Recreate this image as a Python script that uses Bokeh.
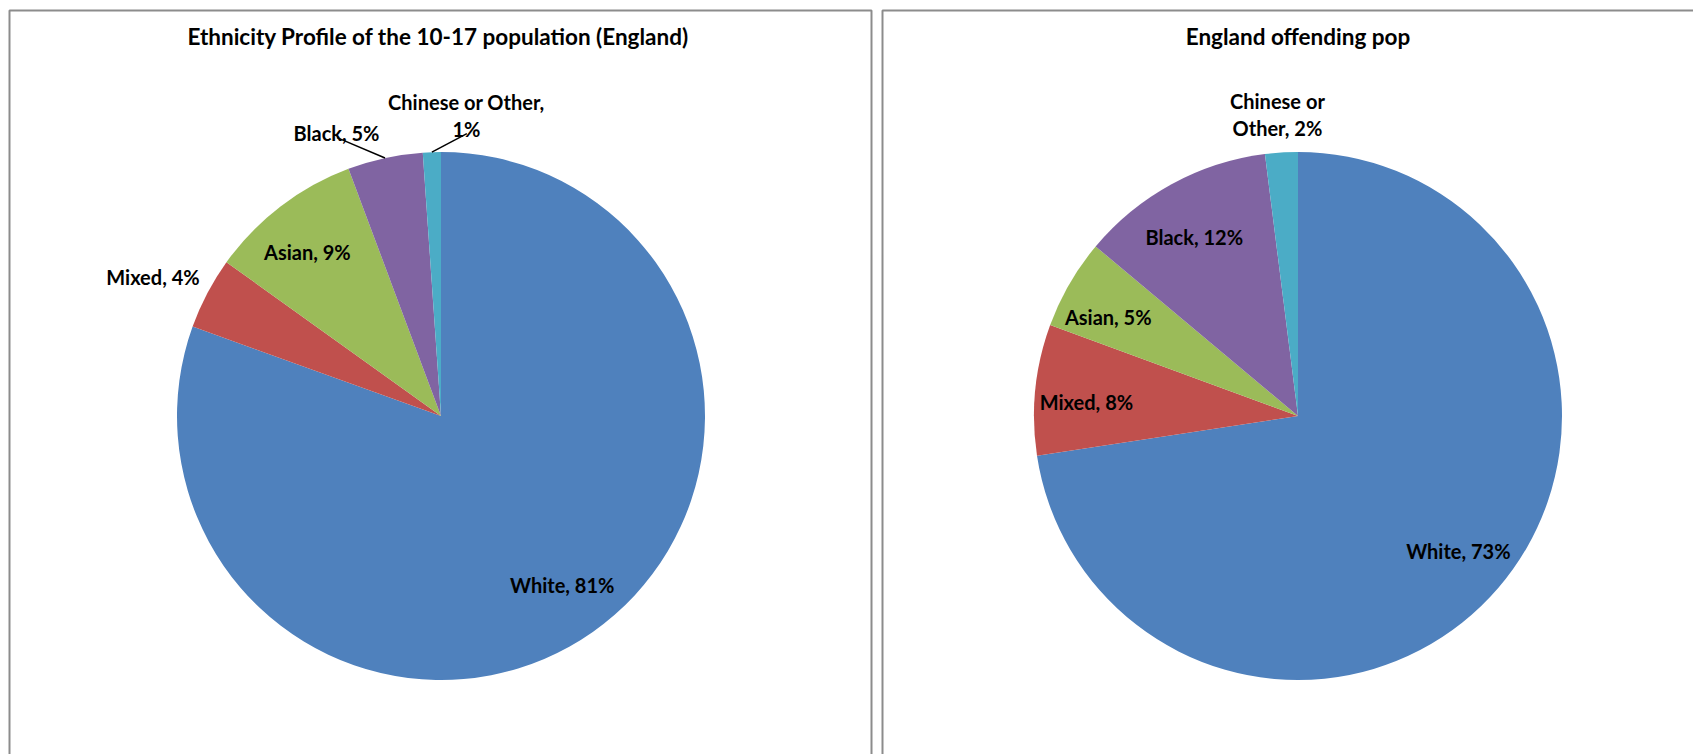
import numpy as np
from bokeh.plotting import figure
from bokeh.models import Range1d, ColumnDataSource
from bokeh.core.properties import value
from bokeh.embed import file_html
from bokeh.resources import INLINE

# ---------------- data ----------------
categories = ["White", "Mixed", "Asian", "Black", "Chinese or Other"]
slice_colors = ["#4F81BD", "#C0504D", "#9BBB59", "#8064A2", "#4BACC6"]

pop_title = "Ethnicity Profile of  the 10-17 population (England)"
pop_values = [80.5, 4.4, 9.4, 4.6, 1.1]
pop_labels = ["White, 81%", "Mixed, 4%", "Asian, 9%", "Black, 5%", "Chinese or Other,\n1%"]

off_title = "England offending pop"
off_values = [72.6, 8.0, 5.5, 11.9, 2.0]
off_labels = ["White, 73%", "Mixed, 8%", "Asian, 5%", "Black, 12%", "Chinese or\nOther, 2%"]

# ---------------- layout ----------------
W, H = 1693, 754
FONT = "Lato"
LABEL_SIZE = 20
TITLE_SIZE = 22.5
LINE_GAP = 27

panels = [
    dict(title=pop_title, values=pop_values, labels=pop_labels,
         cx=440.5, cy=H - 415.5, r=264,
         lab_rf=[0.789, 1.212, 0.80, 1.144, 1.144],
         lab_shift=[0.5, 1.9, 1.8, 8.0, -6.8],
         leader=[False, False, False, True, True]),
    dict(title=off_title, values=off_values, labels=off_labels,
         cx=1297.5, cy=H - 415.5, r=264,
         lab_rf=[0.795, 0.803, 0.81, 0.783, 1.146],
         lab_shift=[0.5, 2.1, 2.6, 1.5, 0.3],
         leader=[False, False, False, False, False]),
]

p = figure(width=W, height=H, x_range=Range1d(0, W), y_range=Range1d(0, H),
           output_backend="svg", toolbar_location=None, min_border=0)
p.axis.visible = False
p.grid.visible = False
p.outline_line_color = None
p.background_fill_color = "white"
p.border_fill_color = "white"

# panel borders (top, left, right edges; bottom is cut off by the window)
border_col = "#8c8c8c"
p.multi_line(xs=[[9, 9, 871, 871], [882, 882, W + 5]],
             ys=[[-5, H - 10, H - 10, -5], [-5, H - 10, H - 10]],
             line_color=border_col, line_width=2)

for pan in panels:
    vals = np.array(pan["values"], dtype=float)
    frac = vals / vals.sum()
    cum_end = np.cumsum(frac)
    cum_start = cum_end - frac
    start = np.pi / 2 - 2 * np.pi * cum_start
    end = np.pi / 2 - 2 * np.pi * cum_end
    src = ColumnDataSource(dict(cat=categories, start=start, end=end, color=slice_colors,
                                x=[pan["cx"]] * len(vals), y=[pan["cy"]] * len(vals)))
    p.wedge(x="x", y="y", radius=pan["r"], start_angle="start", end_angle="end",
            direction="clock", fill_color="color", line_color=None, source=src)

    # labels
    mid = np.pi / 2 - 2 * np.pi * (cum_start + frac / 2)
    tx, ty, tt = [], [], []
    lx, ly = [], []
    for i, lab in enumerate(pan["labels"]):
        ang = mid[i] + np.deg2rad(pan["lab_shift"][i])
        rr = pan["r"] * pan["lab_rf"][i]
        bx = pan["cx"] + rr * np.cos(ang)
        by = pan["cy"] + rr * np.sin(ang)
        lines = lab.split("\n")
        n = len(lines)
        for k, ln in enumerate(lines):
            tx.append(bx)
            ty.append(by + ((n - 1) / 2 - k) * LINE_GAP)
            tt.append(ln)
        if pan["leader"][i]:
            last_y = by - (n - 1) / 2 * LINE_GAP
            ex = pan["cx"] + pan["r"] * np.cos(mid[i])
            ey = pan["cy"] + pan["r"] * np.sin(mid[i])
            lx.append([bx + 0.5, ex])
            ly.append([last_y - 5, ey])
    if lx:
        p.multi_line(xs=lx, ys=ly, line_color="black", line_width=1.5)
    p.text(x=tx, y=ty, text=tt, text_font=value(FONT), text_font_style="bold",
           text_font_size=f"{LABEL_SIZE}px", text_align="center",
           text_baseline="middle", text_color="black")

    # chart title
    p.text(x=[pan["cx"]], y=[H - 36], text=[pan["title"]], text_font=value(FONT),
           text_font_style="bold", text_font_size=f"{TITLE_SIZE}px",
           text_align="center", text_baseline="middle", text_color="black")

open("out.html", "w").write(file_html(p, INLINE))
